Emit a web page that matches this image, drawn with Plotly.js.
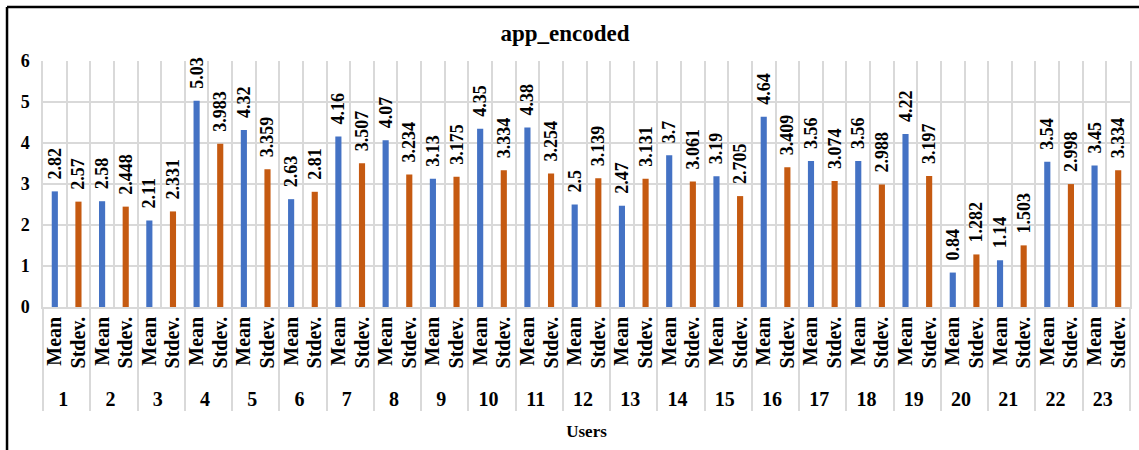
<!DOCTYPE html>
<html>
<head>
<meta charset="utf-8">
<script src="https://cdn.plot.ly/plotly-3.0.1.min.js"></script>
<style>
  html, body { margin: 0; padding: 0; background: #ffffff; }
  #chart { width: 1139px; height: 450px; }
</style>
</head>
<body>
<div id="chart"></div>
<script>
// ---- data ----
const users = ["1","2","3","4","5","6","7","8","9","10","11","12","13","14","15","16","17","18","19","20","21","22","23"];
const statLabels = ["Mean", "Stdev."];
const meanValues = [2.82, 2.58, 2.11, 5.03, 4.32, 2.63, 4.16, 4.07, 3.13, 4.35, 4.38, 2.5, 2.47, 3.7, 3.19, 4.64, 3.56, 3.56, 4.22, 0.84, 1.14, 3.54, 3.45];
const stdevValues = [2.57, 2.448, 2.331, 3.983, 3.359, 2.81, 3.507, 3.234, 3.175, 3.334, 3.254, 3.139, 3.131, 3.061, 2.705, 3.409, 3.074, 2.988, 3.197, 1.282, 1.503, 2.998, 3.334];
const chartTitle = "app_encoded";
const xTitle = "Users";

const FONT = "Liberation Serif, serif";
const LABEL_PAD = "\u00A0\u00A0"; // small gap between bar top and its rotated value label

function makeTrace(values, stat, color) {
  return {
    type: "bar",
    name: stat,
    x: [users, users.map(() => stat)],
    y: values,
    text: values.map(v => LABEL_PAD + String(v)),
    textposition: "outside",
    textangle: -90,
    constraintext: "none",
    cliponaxis: false,
    textfont: { family: FONT, size: 18, color: "#000000", weight: "bold" },
    marker: { color: color, line: { width: 0 } },
    width: 0.26,
    hoverinfo: "x+y"
  };
}

const data = [
  makeTrace(meanValues, statLabels[0], "#4472C4"),
  makeTrace(stdevValues, statLabels[1], "#C55A11")
];

const layout = {
  width: 1139,
  height: 450,
  paper_bgcolor: "#ffffff",
  plot_bgcolor: "#ffffff",
  margin: { l: 43, r: 9, t: 61, b: 143, autoexpand: false },
  showlegend: false,
  barmode: "overlay",
  title: {
    text: chartTitle,
    font: { family: FONT, size: 23, color: "#000000", weight: "bold" },
    x: 0.496, xanchor: "center",
    y: 0.927, yanchor: "middle"
  },
  xaxis: {
    type: "multicategory",
    tickmode: "linear",
    tick0: 0,
    dtick: 1,
    tickson: "boundaries",
    showgrid: true,
    gridcolor: "#d9d9d9",
    gridwidth: 1.5,
    showline: true,
    linecolor: "#d9d9d9",
    linewidth: 1.5,
    ticks: "",
    tickangle: -90,
    tickfont: { family: FONT, size: 20, color: "#000000", weight: "bold" },
    showdividers: true,
    dividercolor: "#d9d9d9",
    dividerwidth: 1.5,
    automargin: false,
    title: {
      text: xTitle,
      font: { family: FONT, size: 17, color: "#000000", weight: "bold" },
      standoff: 16
    }
  },
  yaxis: {
    range: [0, 6],
    dtick: 1,
    showgrid: true,
    gridcolor: "#d9d9d9",
    gridwidth: 1.5,
    zeroline: false,
    showline: true,
    mirror: true,
    linecolor: "#d9d9d9",
    linewidth: 1.5,
    ticks: "",
    ticklabelstandoff: 8,
    tickfont: { family: FONT, size: 18, color: "#000000", weight: "bold" },
    automargin: false
  },
  shapes: [
    { type: "line", xref: "paper", yref: "paper", x0: -0.0331, x1: 1.1, y0: 1.2195, y1: 1.2195,
      line: { color: "#000000", width: 2.5 } },
    { type: "line", xref: "paper", yref: "paper", x0: -0.0331, x1: -0.0331, y0: 1.2195, y1: -0.7,
      line: { color: "#000000", width: 2.5 } }
  ]
};

Plotly.newPlot("chart", data, layout, { displayModeBar: false, responsive: false });
</script>
</body>
</html>
